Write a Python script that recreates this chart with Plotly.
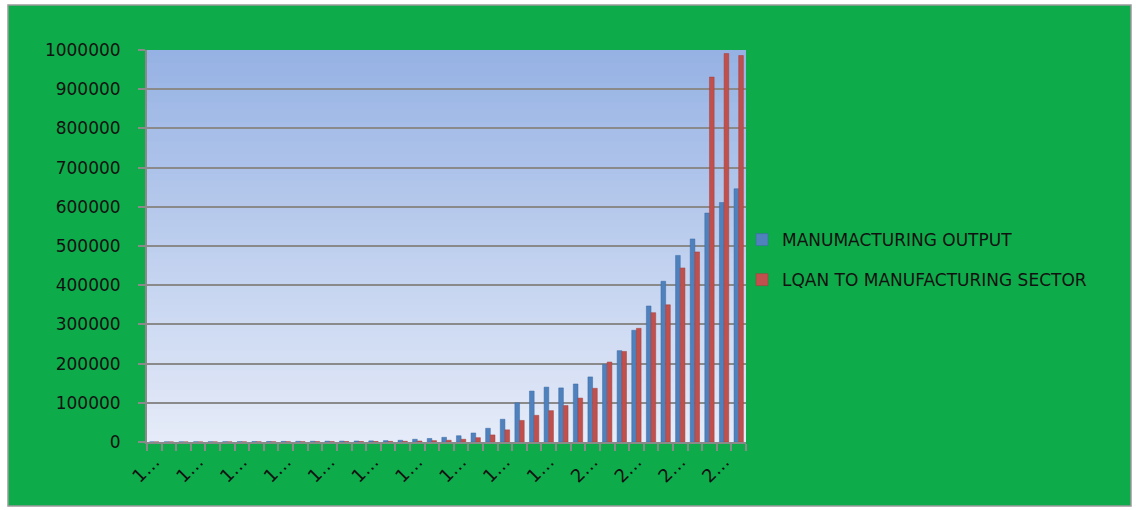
import plotly.graph_objects as go

years = list(range(1970, 2011))

manufacturing_output = [
    300, 350, 400, 500, 600, 700, 900, 1100, 1300, 1500,
    1700, 1900, 2100, 2300, 2600, 2900, 3500, 4500, 7000, 9000,
    12000, 16000, 23000, 35000, 58000, 100000, 130000, 140000, 138000, 148000,
    166000, 198000, 233000, 285000, 347000, 410000, 476000, 518000, 584000, 611000,
    646000,
]

loan_to_manufacturing = [
    100, 120, 150, 200, 250, 300, 400, 500, 600, 700,
    800, 900, 1000, 1100, 1200, 1300, 1500, 1800, 2500, 3500,
    4500, 7000, 11000, 18000, 31000, 55000, 68000, 80000, 93000, 112000,
    137000, 204000, 231000, 290000, 330000, 350000, 444000, 485000, 931000, 991000,
    986000,
]

series_names = ["MANUMACTURING OUTPUT", "LQAN TO MANUFACTURING SECTOR"]
label_years = years[::3]
label_text = [str(y)[0] + "\u2026" for y in label_years]

W, H = 1136, 510
L, R, T, B = 147, 390, 50, 68
PW, PH = W - L - R, H - T - B

def px_x(x):
    return (x - L) / PW

def px_y(y):
    return (H - B - y) / PH

FONT = "DejaVu Sans"
GREY = "#8a8a8a"
TXT = "#111111"

fig = go.Figure()
fig.add_trace(go.Bar(
    x=years, y=manufacturing_output, name=series_names[0],
    marker=dict(color="#4f81bd", line=dict(color="#3a6aa5", width=0.5)),
    legendgroup="a",
))
fig.add_trace(go.Bar(
    x=years, y=loan_to_manufacturing, name=series_names[1],
    marker=dict(color="#c0504d", line=dict(color="#a33e3b", width=0.5)),
    legendgroup="b",
))

shapes = []
# outer green chart area
shapes.append(dict(type="rect", xref="paper", yref="paper",
                   x0=px_x(8), x1=px_x(1131), y0=px_y(506), y1=px_y(5),
                   fillcolor="#0eab4b", line=dict(color="#9a9a9a", width=1.5),
                   layer="below"))
# plot area vertical gradient (overlapping strips, no seams)
n = 60
top = (150, 178, 228)
bot = (229, 235, 248)
for i in range(n):
    t = i / (n - 1)
    c = tuple(int(round(top[k] + (bot[k] - top[k]) * t)) for k in range(3))
    shapes.append(dict(type="rect", xref="x domain", yref="y domain",
                       x0=0, x1=1, y0=0, y1=1 - i / n,
                       fillcolor="rgb(%d,%d,%d)" % c, line=dict(width=0),
                       layer="below"))

fig.update_layout(
    width=W, height=H,
    margin=dict(l=L, r=R, t=T, b=B),
    paper_bgcolor="white",
    plot_bgcolor="rgba(0,0,0,0)",
    barmode="group", bargap=0.36, bargroupgap=0.0,
    shapes=shapes,
    font=dict(family=FONT, color=TXT),
    legend=dict(x=px_x(742), xanchor="left", y=px_y(260), yanchor="middle",
                font=dict(family=FONT, size=17, color=TXT),
                bgcolor="rgba(0,0,0,0)", tracegroupgap=15,
                traceorder="grouped"),
    showlegend=True,
)
fig.update_yaxes(
    range=[0, 1000000], dtick=100000, tickformat="d",
    showgrid=True, gridcolor=GREY, gridwidth=2,
    showline=True, linecolor=GREY, linewidth=2,
    ticks="outside", ticklen=7, tickcolor=GREY, tickwidth=1.5,
    ticklabelstandoff=14,
    tickfont=dict(family=FONT, size=17, color=TXT),
    zeroline=False,
)
fig.update_xaxes(
    range=[1969.5, 2010.5],
    tickmode="array", tickvals=label_years, ticktext=label_text,
    tickangle=-45, ticks="", showgrid=False,
    showline=True, linecolor=GREY, linewidth=2,
    tickfont=dict(family=FONT, size=18, color=TXT),
    minor=dict(tickmode="array", tickvals=[y - 0.5 for y in years] + [2010.5],
               ticks="outside", ticklen=7, tickcolor=GREY, tickwidth=1.5,
               showgrid=False),
    zeroline=False,
)

fig.write_html("out.html")
